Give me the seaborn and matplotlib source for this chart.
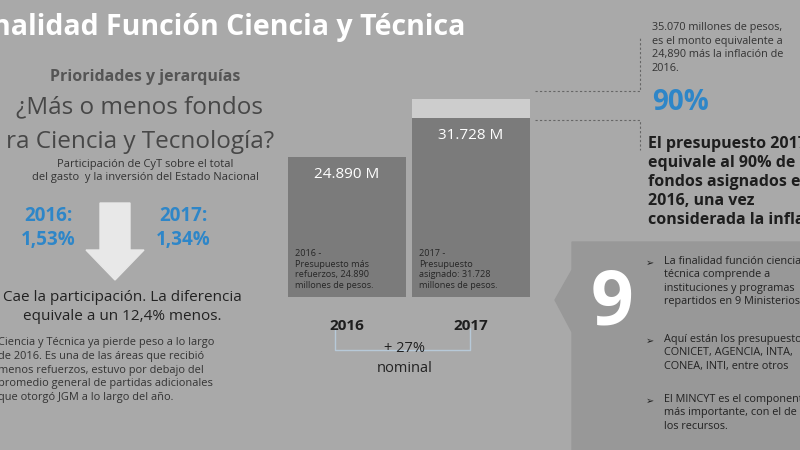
import matplotlib
matplotlib.use("Agg")
import matplotlib.pyplot as plt
import seaborn as sns
import pandas as pd
from matplotlib.patches import Polygon

sns.set_style("white")
plt.rcParams['font.family'] = ['Open Sans', 'DejaVu Sans']

# Data
years = ["2016", "2017"]
budget = [24890, 31728]          # millones de pesos
inflation_equiv = 35070          # 2016 + inflacion
bar_labels = ["24.890 M", "31.728 M"]
bar_notes = ["2016 -\nPresupuesto más\nrefuerzos, 24.890\nmillones de pesos.",
             "2017 -\nPresupuesto\nasignado: 31.728\nmillones de pesos."]

bg = "#a9a9a9"
fig = plt.figure(figsize=(8, 4.5), dpi=100)
fig.patch.set_facecolor(bg)

# background layer for text / shapes, in pixel coords
bk = fig.add_axes([0, 0, 1, 1])
bk.set_xlim(0, 800); bk.set_ylim(450, 0); bk.axis("off")
bk.add_patch(Polygon([(572, 242), (800, 242), (800, 450), (572, 450), (572, 332),
                      (555, 300), (572, 270)], closed=True, color="#989898", zorder=0))

dark = "#333333"
bk.text(-8, 27, "nalidad Función Ciencia y Técnica", fontsize=20.5, color="white",
        fontweight="bold", va="center")
bk.text(145, 77, "Prioridades y jerarquías", fontsize=11.5, color="#555555",
        fontweight="bold", ha="center", va="center")
bk.text(140, 107, "¿Más o menos fondos", fontsize=17.5, color="#474747", ha="center", va="center")
bk.text(140, 142, "ra Ciencia y Tecnología?", fontsize=17.5, color="#474747", ha="center", va="center")
bk.text(145, 171, "Participación de CyT sobre el total\ndel gasto  y la inversión del Estado Nacional",
        fontsize=8, color=dark, ha="center", va="center", linespacing=1.2)
blue = "#2e86c8"
bk.text(48, 228, "2016:\n1,53%", fontsize=13.5, color=blue, fontweight="bold", ha="center",
        va="center", linespacing=1.3)
bk.text(183, 228, "2017:\n1,34%", fontsize=13.5, color=blue, fontweight="bold", ha="center",
        va="center", linespacing=1.3)
bk.add_patch(Polygon([(100, 203), (130, 203), (130, 250), (144, 250), (115, 280),
                      (86, 250), (100, 250)], closed=True, color="#e8e8e8"))
bk.text(122, 307, "Cae la participación. La diferencia\nequivale a un 12,4% menos.",
        fontsize=11, color="#222222", ha="center", va="center", linespacing=1.4)
bk.text(-2, 370, "Ciencia y Técnica ya pierde peso a lo largo\nde 2016. Es una de las áreas que recibió\n"
        "menos refuerzos, estuvo por debajo del\npromedio general de partidas adicionales\n"
        "que otorgó JGM a lo largo del año.", fontsize=7.9, color=dark, va="center",
        linespacing=1.35)

# right column
bk.text(652, 48, "35.070 millones de pesos,\nes el monto equivalente a\n24,890 más la inflación de\n2016.",
        fontsize=7.8, color=dark, va="center", linespacing=1.3)
bk.text(652, 103, "90%", fontsize=20, color=blue, fontweight="bold", va="center")
bk.text(648, 182, "El presupuesto 2017\nequivale al 90% de los\nfondos asignados en\n2016, una vez\nconsiderada la inflación",
        fontsize=11.5, color="#1e1e1e", fontweight="bold", va="center", linespacing=1.25)
bk.text(612, 305, "9", fontsize=54, color="white", fontweight="bold", ha="center", va="center")
bullets = [(256, "La finalidad función ciencia y\ntécnica comprende a\ninstituciones y programas\nrepartidos en 9 Ministerios"),
           (334, "Aquí están los presupuestos de\nCONICET, AGENCIA, INTA,\nCONEA, INTI, entre otros"),
           (394, "El MINCYT es el componente\nmás importante, con el de\nlos recursos.")]
for y, t in bullets:
    bk.text(646, y + 2, "➢", fontsize=7, color="#222222", va="top", family="DejaVu Sans")
    bk.text(664, y, t, fontsize=7.8, color="#222222", va="top", linespacing=1.3)

# dashed connectors
ls = dict(color="#666666", lw=0.8, ls=(0, (2, 2)))
bk.plot([535, 640, 640], [91, 91, 38], **ls)
bk.plot([535, 640, 640], [120, 120, 150], **ls)

# bracket
bk.plot([335, 335, 470, 470], [328, 350, 350, 328], color="#b7c9d8", lw=1)
bk.text(405, 348, "+ 27%", fontsize=10.5, color="#222222", ha="center", va="center")
bk.text(405, 368, "nominal", fontsize=10.5, color="#222222", ha="center", va="center")

# bar chart
ax = fig.add_axes([288 / 800, 1 - 297 / 450, 242 / 800, 206 / 450])
df = pd.DataFrame({"year": years, "budget": budget})
w = 0.952
ax.bar([1], [inflation_equiv], width=w, color="#cdcdcd", zorder=0, linewidth=0)
sns.barplot(data=df, x="year", y="budget", color="#7b7b7b", width=w, ax=ax,
            saturation=1, zorder=1, linewidth=0, edgecolor="none")
ax.set_xlim(-w / 2, 1 + w / 2)
ax.set_ylim(0, 36500)
ax.axis("off")
for i, v in enumerate(budget):
    ax.text(i, v - 3200, bar_labels[i], ha="center", va="center", fontsize=11, color="white")
    ax.text(i - 0.42, 1200, bar_notes[i], ha="left", va="bottom", fontsize=6.6,
            color="#262626", linespacing=1.25)
    ax.text(i, -5200, years[i], ha="center", va="center", fontsize=11,
            fontweight="bold", color="#1e1e1e", clip_on=False)

fig.savefig("out.png", dpi=100, facecolor=bg)
